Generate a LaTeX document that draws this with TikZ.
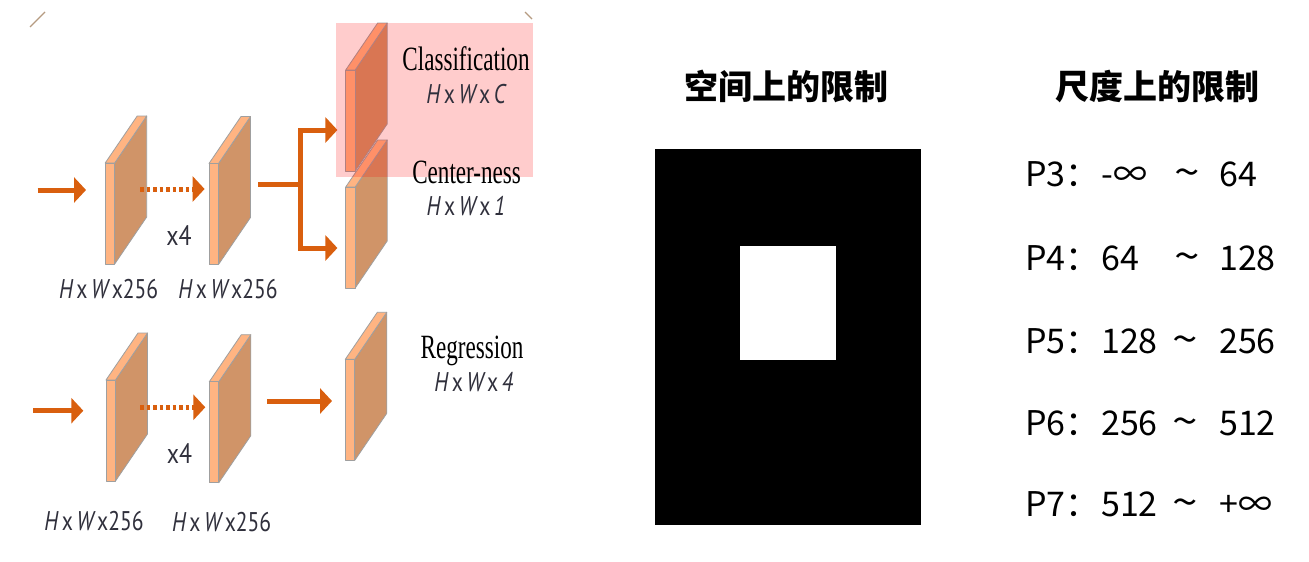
\documentclass[tikz,border=0pt]{standalone}
\usepackage{fontspec}
\usepackage{graphicx}
\usetikzlibrary{arrows.meta}
\setmainfont{Liberation Serif}
\newfontfamily\cjk{Noto Sans CJK SC}
\newfontfamily\lab{PT Sans}
\definecolor{arrc}{HTML}{D95F0E}
\definecolor{frontc}{HTML}{FFB482}
\definecolor{sidec}{HTML}{D09468}
\definecolor{labc}{HTML}{30303C}
\newcommand\myplate[2]{%
  \draw[plateline,fill=sidec] ({#1+9.5},#2) -- ({#1+41.5},{#2-47}) -- ({#1+41.5},{#2+54}) -- ({#1+9.5},{#2+101}) -- cycle;
  \draw[plateline,fill=frontc] (#1,#2) -- ({#1+32},{#2-47}) -- ({#1+41.5},{#2-47}) -- ({#1+9.5},#2) -- cycle;
  \draw[plateline,fill=frontc] (#1,#2) rectangle ({#1+9.5},{#2+101});
}
\newcommand\dimlab[1]{\scalebox{0.8}[1]{\lab\itshape H\,\upshape x\,\itshape W\,\upshape x#1}}
\newcommand\tld{\scalebox{1.35}[1.15]{\string~}}
\begin{document}
\begin{tikzpicture}[x=1pt,y=-1pt,
  plateline/.style={draw=gray!75,line width=0.8pt,line join=round},
  arr/.style={draw=arrc,line width=5pt,-{Triangle[length=12pt,width=25pt]}},
  dotarr/.style={draw=arrc,line width=5pt,dash pattern=on 3.5pt off 3pt,-{Triangle[length=12pt,width=25pt]}},
  lin/.style={draw=arrc,line width=5pt},
  dimtxt/.style={text=labc,font=\fontsize{27}{30}\selectfont,inner sep=0pt},
  headtxt/.style={text=black,font=\fontsize{34}{38}\selectfont,inner sep=0pt},
  cjktitle/.style={font=\cjk\bfseries\fontsize{34}{38}\selectfont,inner sep=0pt,anchor=base},
  listtxt/.style={font=\cjk\fontsize{34}{38}\selectfont,inner sep=0pt,anchor=base west}]
\useasboundingbox (0,0) rectangle (1309,562);
\fill[white] (0,0) rectangle (1309,562);

% corner marks
\draw[brown!70!black,line width=1.2pt,opacity=0.6] (30,27) -- (45,12);
\draw[brown!70!black,line width=1.2pt,opacity=0.6] (525,12) -- (532,19);

% plates
\myplate{105.2}{163}
\myplate{209}{163.5}
\myplate{345.7}{70}
\myplate{345.7}{187}
\myplate{106}{380}
\myplate{209.3}{381.7}
\myplate{345.3}{359.3}

% top row arrows
\coordinate (a1s) at (37.7,190); \coordinate (a1e) at (86,190);
\coordinate (d1s) at (140,189); \coordinate (d1e) at (204.6,189);
\coordinate (h2o) at (258.4,184); \coordinate (br) at (300,184);
\coordinate (clsin) at (337.4,130); \coordinate (ctrin) at (337.4,248);
\draw[arr] (a1s) -- (a1e);
\draw[dotarr] (d1s) -- (d1e);
\draw[lin] (h2o) -- (br);
\draw[arr] (br) |- (clsin);
\draw[arr] (br) |- (ctrin);

% bottom row arrows
\coordinate (a2s) at (33,410.7); \coordinate (a2e) at (83.3,410.7);
\coordinate (d2s) at (140,407.3); \coordinate (d2e) at (205.3,407.3);
\coordinate (r2s) at (267.4,401); \coordinate (r2e) at (332,401);
\draw[arr] (a2s) -- (a2e);
\draw[dotarr] (d2s) -- (d2e);
\draw[arr] (r2s) -- (r2e);

% pink highlight
\fill[red,opacity=0.2] (336,23) rectangle (533,177);

% left labels
\node[headtxt,anchor=base] (cls) at (466,70) {\scalebox{0.68}[1]{Classification}};
\node[dimtxt,anchor=base] (clsd) at (466,103) {\dimlab{\,\itshape C}};
\node[headtxt,anchor=base] (ctr) at (466.6,183) {\scalebox{0.68}[1]{Center-ness}};
\node[dimtxt,anchor=base] (ctrd) at (466,215) {\dimlab{\,\itshape 1}};
\node[headtxt,anchor=base] (reg) at (472,358) {\scalebox{0.68}[1]{Regression}};
\node[dimtxt,anchor=base] (regd) at (473.8,391) {\dimlab{\,\itshape 4}};
\node[dimtxt,anchor=base] (l1) at (108.6,298) {\dimlab{256}};
\node[dimtxt,anchor=base] (l2) at (228,298) {\dimlab{256}};
\node[dimtxt,anchor=base] (l3) at (94,530) {\dimlab{256}};
\node[dimtxt,anchor=base] (l4) at (221.6,531) {\dimlab{256}};
\node[dimtxt,anchor=base,font=\lab\fontsize{28}{32}\selectfont] (x4a) at (179,245) {\scalebox{0.85}[1]{x4}};
\node[dimtxt,anchor=base,font=\lab\fontsize{28}{32}\selectfont] (x4b) at (179.5,463) {\scalebox{0.85}[1]{x4}};

% spatial constraint
\node[cjktitle] (t1) at (786.5,99.5) {空间上的限制};
\fill[black] (655,149) rectangle (921,525);
\fill[white] (740,246) rectangle (836,360);

% scale constraint
\node[cjktitle] (t2) at (1157,99.5) {尺度上的限制};
\node[listtxt] (p3a) at (1025,186.7) {P3：};
\node[listtxt] (p3b) at (1101,186.7) {-∞};
\node[listtxt] (p3c) at (1174,186.7) {\tld};
\node[listtxt] (p3d) at (1219,186.7) {64};
\node[listtxt] (p4a) at (1025,270) {P4：};
\node[listtxt] (p4b) at (1101,270) {64};
\node[listtxt] (p4c) at (1174,270) {\tld};
\node[listtxt] (p4d) at (1219,270) {128};
\node[listtxt] (p5a) at (1025,353.3) {P5：};
\node[listtxt] (p5b) at (1101,353.3) {128};
\node[listtxt] (p5c) at (1172,353.3) {\tld};
\node[listtxt] (p5d) at (1219,353.3) {256};
\node[listtxt] (p6a) at (1025,435) {P6：};
\node[listtxt] (p6b) at (1101,435) {256};
\node[listtxt] (p6c) at (1172,435) {\tld};
\node[listtxt] (p6d) at (1219,435) {512};
\node[listtxt] (p7a) at (1025,516.7) {P7：};
\node[listtxt] (p7b) at (1101,516.7) {512};
\node[listtxt] (p7c) at (1172,516.7) {\tld};
\node[listtxt] (p7d) at (1219,516.7) {+∞};
\end{tikzpicture}
\end{document}
